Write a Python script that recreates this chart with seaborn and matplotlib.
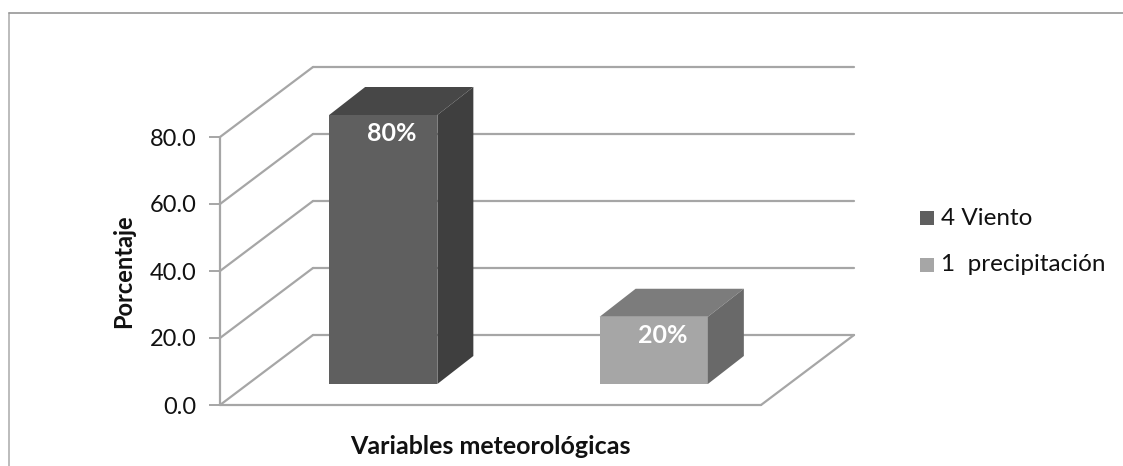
import numpy as np
import pandas as pd
import matplotlib
matplotlib.use('Agg')
import matplotlib.pyplot as plt
from matplotlib.patches import Polygon, Rectangle
import seaborn as sns

categories = ['4 Viento', '1  precipitación']
values = [80, 20]
value_labels = ['80%', '20%']
yticks = [0, 20, 40, 60, 80]
ytick_labels = ['0.0', '20.0', '40.0', '60.0', '80.0']
front_colors = ['#5f5f5f', '#a6a6a6']
top_colors = ['#474747', '#7c7c7c']
side_colors = ['#3f3f3f', '#696969']

W, H = 1123, 466
GRID = '#a6a6a6'
TEXT = '#111111'

sns.set_theme(style='white')
plt.rcParams['font.family'] = ['Lato', 'DejaVu Sans']


def px_box(x0, y0, x1, y1):
    # pixel box (y from the top) to figure fractions
    return [x0 / W, 1 - y1 / H, (x1 - x0) / W, (y1 - y0) / H]


fig = plt.figure(figsize=(W / 100, H / 100), dpi=100, facecolor='white')

# outer frame, the original is cropped on the right and at the bottom
for xs, ys, col in [((9, 9), (12.5, H), '#b0b0b0'), ((9, W), (12.5, 12.5), '#969696')]:
    fig.add_artist(plt.Line2D(np.array(xs) / W, 1 - np.array(ys) / H, color=col, lw=1.2))

# front plane of the 3d box, holds the ticks
ax = fig.add_axes(px_box(220, 137, 761, 405))
ax.set_xlim(-0.5, 1.5)
ax.set_ylim(0, 80)
ax.patch.set_alpha(0)
for s in ax.spines.values():
    s.set_visible(False)

# depth of the box, pixels converted to data units
dx = 93 / 541 * 2
dy = 70 / 268 * 80

for t in yticks:
    ax.plot([-0.5, -0.5 + dx], [t, t + dy], color=GRID, lw=1.6, clip_on=False, zorder=1)
    ax.plot([-0.5 + dx, 1.5 + dx], [t + dy, t + dy], color=GRID, lw=1.6, clip_on=False, zorder=1)
ax.plot([-0.5, -0.5], [0, 80], color=GRID, lw=1.6, clip_on=False, zorder=1)
ax.plot([-0.5, 1.5], [0, 0], color=GRID, lw=1.6, clip_on=False, zorder=1)
ax.plot([1.5, 1.5 + dx], [0, dy], color=GRID, lw=1.6, clip_on=False, zorder=1)

ax.set_xticks([])
ax.set_yticks(yticks)
ax.set_yticklabels(ytick_labels, fontsize=17, color=TEXT)
ax.tick_params(axis='y', left=True, length=8, width=1.4, color=GRID, pad=9)
ax.set_ylabel('Porcentaje', fontsize=17, fontweight='bold', color=TEXT)
ax.set_xlabel('Variables meteorológicas', fontsize=18, fontweight='bold', color=TEXT)
ax.xaxis.set_label_coords(0.5, -0.112)
ax.yaxis.set_label_coords(-0.156, 0.5)

# bars sit part way into the box
bar_ax = fig.add_axes(px_box(248, 115, 789, 384))
bar_ax.patch.set_alpha(0)
df = pd.DataFrame({'variable': categories, 'valor': values})
sns.barplot(data=df, x='variable', y='valor', hue='variable', palette=front_colors,
            width=0.4, saturation=1, legend=False, linewidth=0, edgecolor='none',
            ax=bar_ax, zorder=3)
bar_ax.set_xlim(-0.5, 1.5)
bar_ax.set_ylim(0, 80)
bar_ax.axis('off')

bdx = 36 / 541 * 2
bdy = 28 / 269 * 80
for i, p in enumerate(bar_ax.patches[:2]):
    x0, w, h = p.get_x(), p.get_width(), p.get_height()
    x1 = x0 + w
    bar_ax.add_patch(Polygon([(x0, h), (x1, h), (x1 + bdx, h + bdy), (x0 + bdx, h + bdy)],
                             closed=True, fc=top_colors[i], ec='none', clip_on=False, zorder=3))
    bar_ax.add_patch(Polygon([(x1, 0), (x1 + bdx, bdy), (x1 + bdx, h + bdy), (x1, h)],
                             closed=True, fc=side_colors[i], ec='none', clip_on=False, zorder=3))
    # labels sit a bit right of the bar centre in the original
    bar_ax.text(x0 + w / 2 + 0.032, h - 5.5, value_labels[i], color='white', fontsize=18,
                fontweight='bold', ha='center', va='center', zorder=4)

# legend drawn by hand so the swatches sit at the right spots
for lab, col, y in zip(categories, front_colors, [218.5, 264.5]):
    fig.add_artist(Rectangle((920 / W, 1 - (y + 7) / H), 14 / W, 14 / H, fc=col, ec='none',
                             transform=fig.transFigure))
    fig.text(941 / W, 1 - y / H, lab, fontsize=17.5, color=TEXT, ha='left', va='center')

fig.savefig('out.png', dpi=100)
